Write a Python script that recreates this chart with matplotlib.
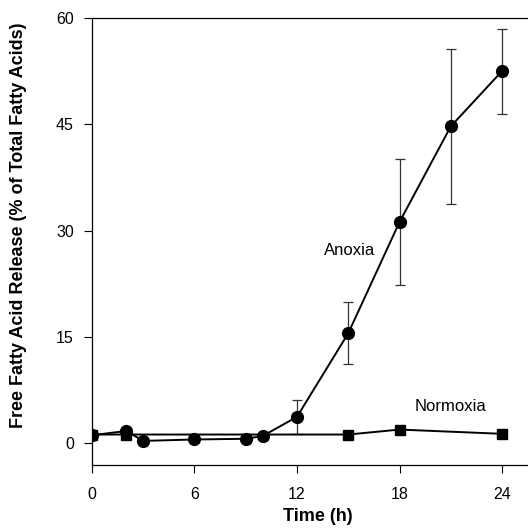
import matplotlib
matplotlib.use("Agg")
import matplotlib.pyplot as plt

anoxia_t = [0, 2, 3, 6, 9, 10, 12, 15, 18, 21, 24]
anoxia_v = [1.1, 1.7, 0.3, 0.5, 0.6, 1.0, 3.7, 15.5, 31.2, 44.7, 52.5]
anoxia_err = [0, 0, 0, 0, 0, 0, 2.4, 4.4, 8.9, 10.9, 6.0]
normoxia_t = [0, 2, 15, 18, 24]
normoxia_v = [1.2, 1.2, 1.2, 1.9, 1.3]
xticks = [0, 6, 12, 18, 24]
yticks = [0, 15, 30, 45, 60]

plt.rcParams['font.family'] = ['Liberation Sans', 'DejaVu Sans']
fig = plt.figure(figsize=(5.28, 5.29), dpi=100)
ax = fig.add_axes([0.1742, 0.121, 0.8258, 0.845])

ax.errorbar(anoxia_t, anoxia_v, yerr=anoxia_err, fmt='none', ecolor='#333333',
            elinewidth=0.9, capsize=3.6, capthick=0.9, zorder=2)
ax.plot(anoxia_t, anoxia_v, color='black', lw=1.4, marker='o', ms=8.5, zorder=3)
ax.plot(normoxia_t, normoxia_v, color='black', lw=1.4, marker='s', ms=7.5, zorder=4)

ax.text(15.1, 27.2, 'Anoxia', fontsize=12, ha='center', va='center')
ax.text(21.0, 5.1, 'Normoxia', fontsize=12, ha='center', va='center')

ax.set_xlim(0, 25.52)
ax.set_ylim(-3.1, 60)
ax.set_xticks(xticks)
ax.set_yticks(yticks)
ax.spines['right'].set_visible(False)
for s in ax.spines.values():
    s.set_linewidth(0.9)
ax.tick_params(direction='out', length=6, width=0.8, labelsize=11.5)
ax.tick_params(axis='x', pad=9.5)
ax.tick_params(axis='y', pad=7)
ax.set_xlabel('Time (h)', fontsize=13, fontweight='bold')
ax.set_ylabel('Free Fatty Acid Release (% of Total Fatty Acids)', fontsize=13,
              fontweight='bold')
ax.xaxis.set_label_coords(0.518, -0.116, transform=ax.transAxes)
ax.xaxis.label.set_va('center')
ax.yaxis.set_label_coords(-0.168, 0.537, transform=ax.transAxes)
ax.yaxis.label.set_va('center')
fig.savefig('out.png', dpi=100)
